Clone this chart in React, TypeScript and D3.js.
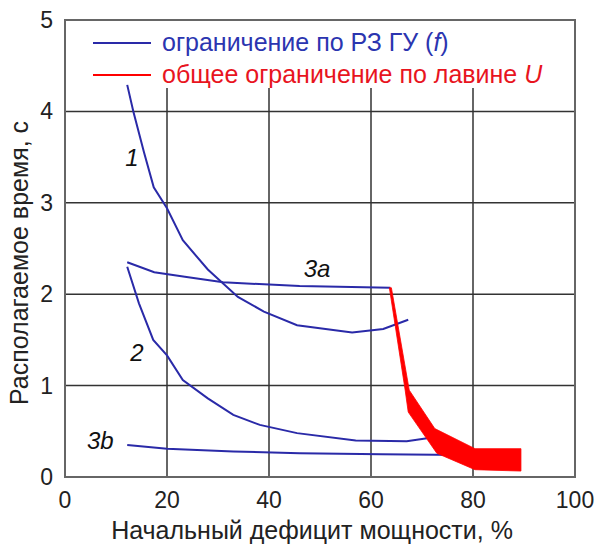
import React from "react";
import * as d3 from "d3";

// curves: [x %, y s]
const curve1: [number, number][] = [
  [12.2, 4.29], [13.4, 4.0], [15.5, 3.55], [17.4, 3.17], [20, 2.94], [23.1, 2.59],
  [28, 2.27], [33.9, 1.97], [39, 1.81], [45.5, 1.66], [56.3, 1.58], [62.4, 1.62], [67.3, 1.72],
];
const curve3a: [number, number][] = [
  [12.2, 2.35], [17.5, 2.24], [23.5, 2.19], [31, 2.13], [46, 2.09], [63.8, 2.07],
];
const curve2: [number, number][] = [
  [12.2, 2.3], [14.5, 1.9], [17.3, 1.5], [20, 1.33], [23.1, 1.06], [28, 0.86],
  [33, 0.68], [38.2, 0.57], [45.5, 0.48], [57, 0.4], [67, 0.39], [73, 0.44],
];
const curve3b: [number, number][] = [
  [12.2, 0.35], [20, 0.31], [33, 0.28], [46, 0.26], [62, 0.25], [78, 0.24],
];
// red band (limit from voltage avalanche): outer edge then inner edge
const bandUpper: [number, number][] = [
  [64.0, 2.07], [67.5, 0.95], [72.5, 0.53], [80.4, 0.31], [89.4, 0.31],
];
const bandLower: [number, number][] = [
  [89.4, 0.065], [80.4, 0.08], [72.9, 0.26], [67.3, 0.71], [66.7, 0.95], [63.6, 2.07],
];

const xTicks = [0, 20, 40, 60, 80, 100];
const yTicks = [0, 1, 2, 3, 4, 5];
const curveLabels = [
  { text: "1", x: 11.8, y: 3.4 },
  { text: "2", x: 12.8, y: 1.27 },
  { text: "3a", x: 46.8, y: 2.19 },
  { text: "3b", x: 4.3, y: 0.31 },
];

const BLUE = "#2a2aa8";
const RED = "#ff0000";
const FONT = "'Liberation Sans', Arial, sans-serif";

export default function App() {
  const width = 599;
  const height = 545;
  const x = d3.scaleLinear().domain([0, 100]).range([65, 575]);
  const y = d3.scaleLinear().domain([0, 5]).range([477, 20]);
  const line = d3.line<[number, number]>().x(d => x(d[0])).y(d => y(d[1]));
  const legendBottom = 88;

  return (
    <svg width={width} height={height} style={{ position: "absolute", left: 0, top: 0, background: "#fff" }}>
      {/* grid */}
      {yTicks.slice(1, 5).map(t => (
        <line key={"h" + t} x1={x(0)} x2={x(100)} y1={y(t)} y2={y(t)} stroke="#333" strokeWidth={1.5} />
      ))}
      {xTicks.slice(1, 5).map(t => (
        <line key={"v" + t} x1={x(t)} x2={x(t)} y1={y(0)} y2={legendBottom} stroke="#333" strokeWidth={1.5} />
      ))}
      <rect x={x(0)} y={y(5)} width={x(100) - x(0)} height={y(0) - y(5)} fill="none" stroke="#666" strokeWidth={2} />

      {/* legend */}
      <line x1={93} x2={151} y1={43} y2={43} stroke={BLUE} strokeWidth={2} />
      <text x={162} y={51} fontFamily={FONT} fontSize={25} fill="#2b35b0">
        ограничение по РЗ ГУ (<tspan fontStyle="italic">f</tspan>)
      </text>
      <line x1={93} x2={151} y1={75} y2={75} stroke={RED} strokeWidth={2} />
      <text x={162} y={83} fontFamily={FONT} fontSize={25} fill="#e8141e">
        общее ограничение по лавине <tspan fontStyle="italic">U</tspan>
      </text>

      {/* curves */}
      {[curve1, curve3a, curve2, curve3b].map((c, i) => (
        <path key={i} d={line(c) || ""} fill="none" stroke={BLUE} strokeWidth={2} />
      ))}
      <path d={(line(bandUpper.concat(bandLower)) || "") + "Z"} fill={RED} stroke={RED} strokeWidth={0.8} />

      {curveLabels.map(l => (
        <text key={l.text} x={x(l.x)} y={y(l.y)} fontFamily={FONT} fontSize={24} fontStyle="italic" fill="#111">
          {l.text}
        </text>
      ))}

      {/* axes labels */}
      {xTicks.map(t => (
        <text key={"xt" + t} x={x(t)} y={508} textAnchor="middle" fontFamily={FONT} fontSize={23} fill="#222">
          {t}
        </text>
      ))}
      {yTicks.map(t => (
        <text key={"yt" + t} x={53} y={y(t) + 8} textAnchor="end" fontFamily={FONT} fontSize={23} fill="#222">
          {t}
        </text>
      ))}
      <text x={312} y={539} textAnchor="middle" fontFamily={FONT} fontSize={25} fill="#222">
        Начальный дефицит мощности, %
      </text>
      <text transform={`translate(28,263) rotate(-90)`} textAnchor="middle" fontFamily={FONT} fontSize={25} fill="#222">
        Располагаемое время, с
      </text>
    </svg>
  );
}
